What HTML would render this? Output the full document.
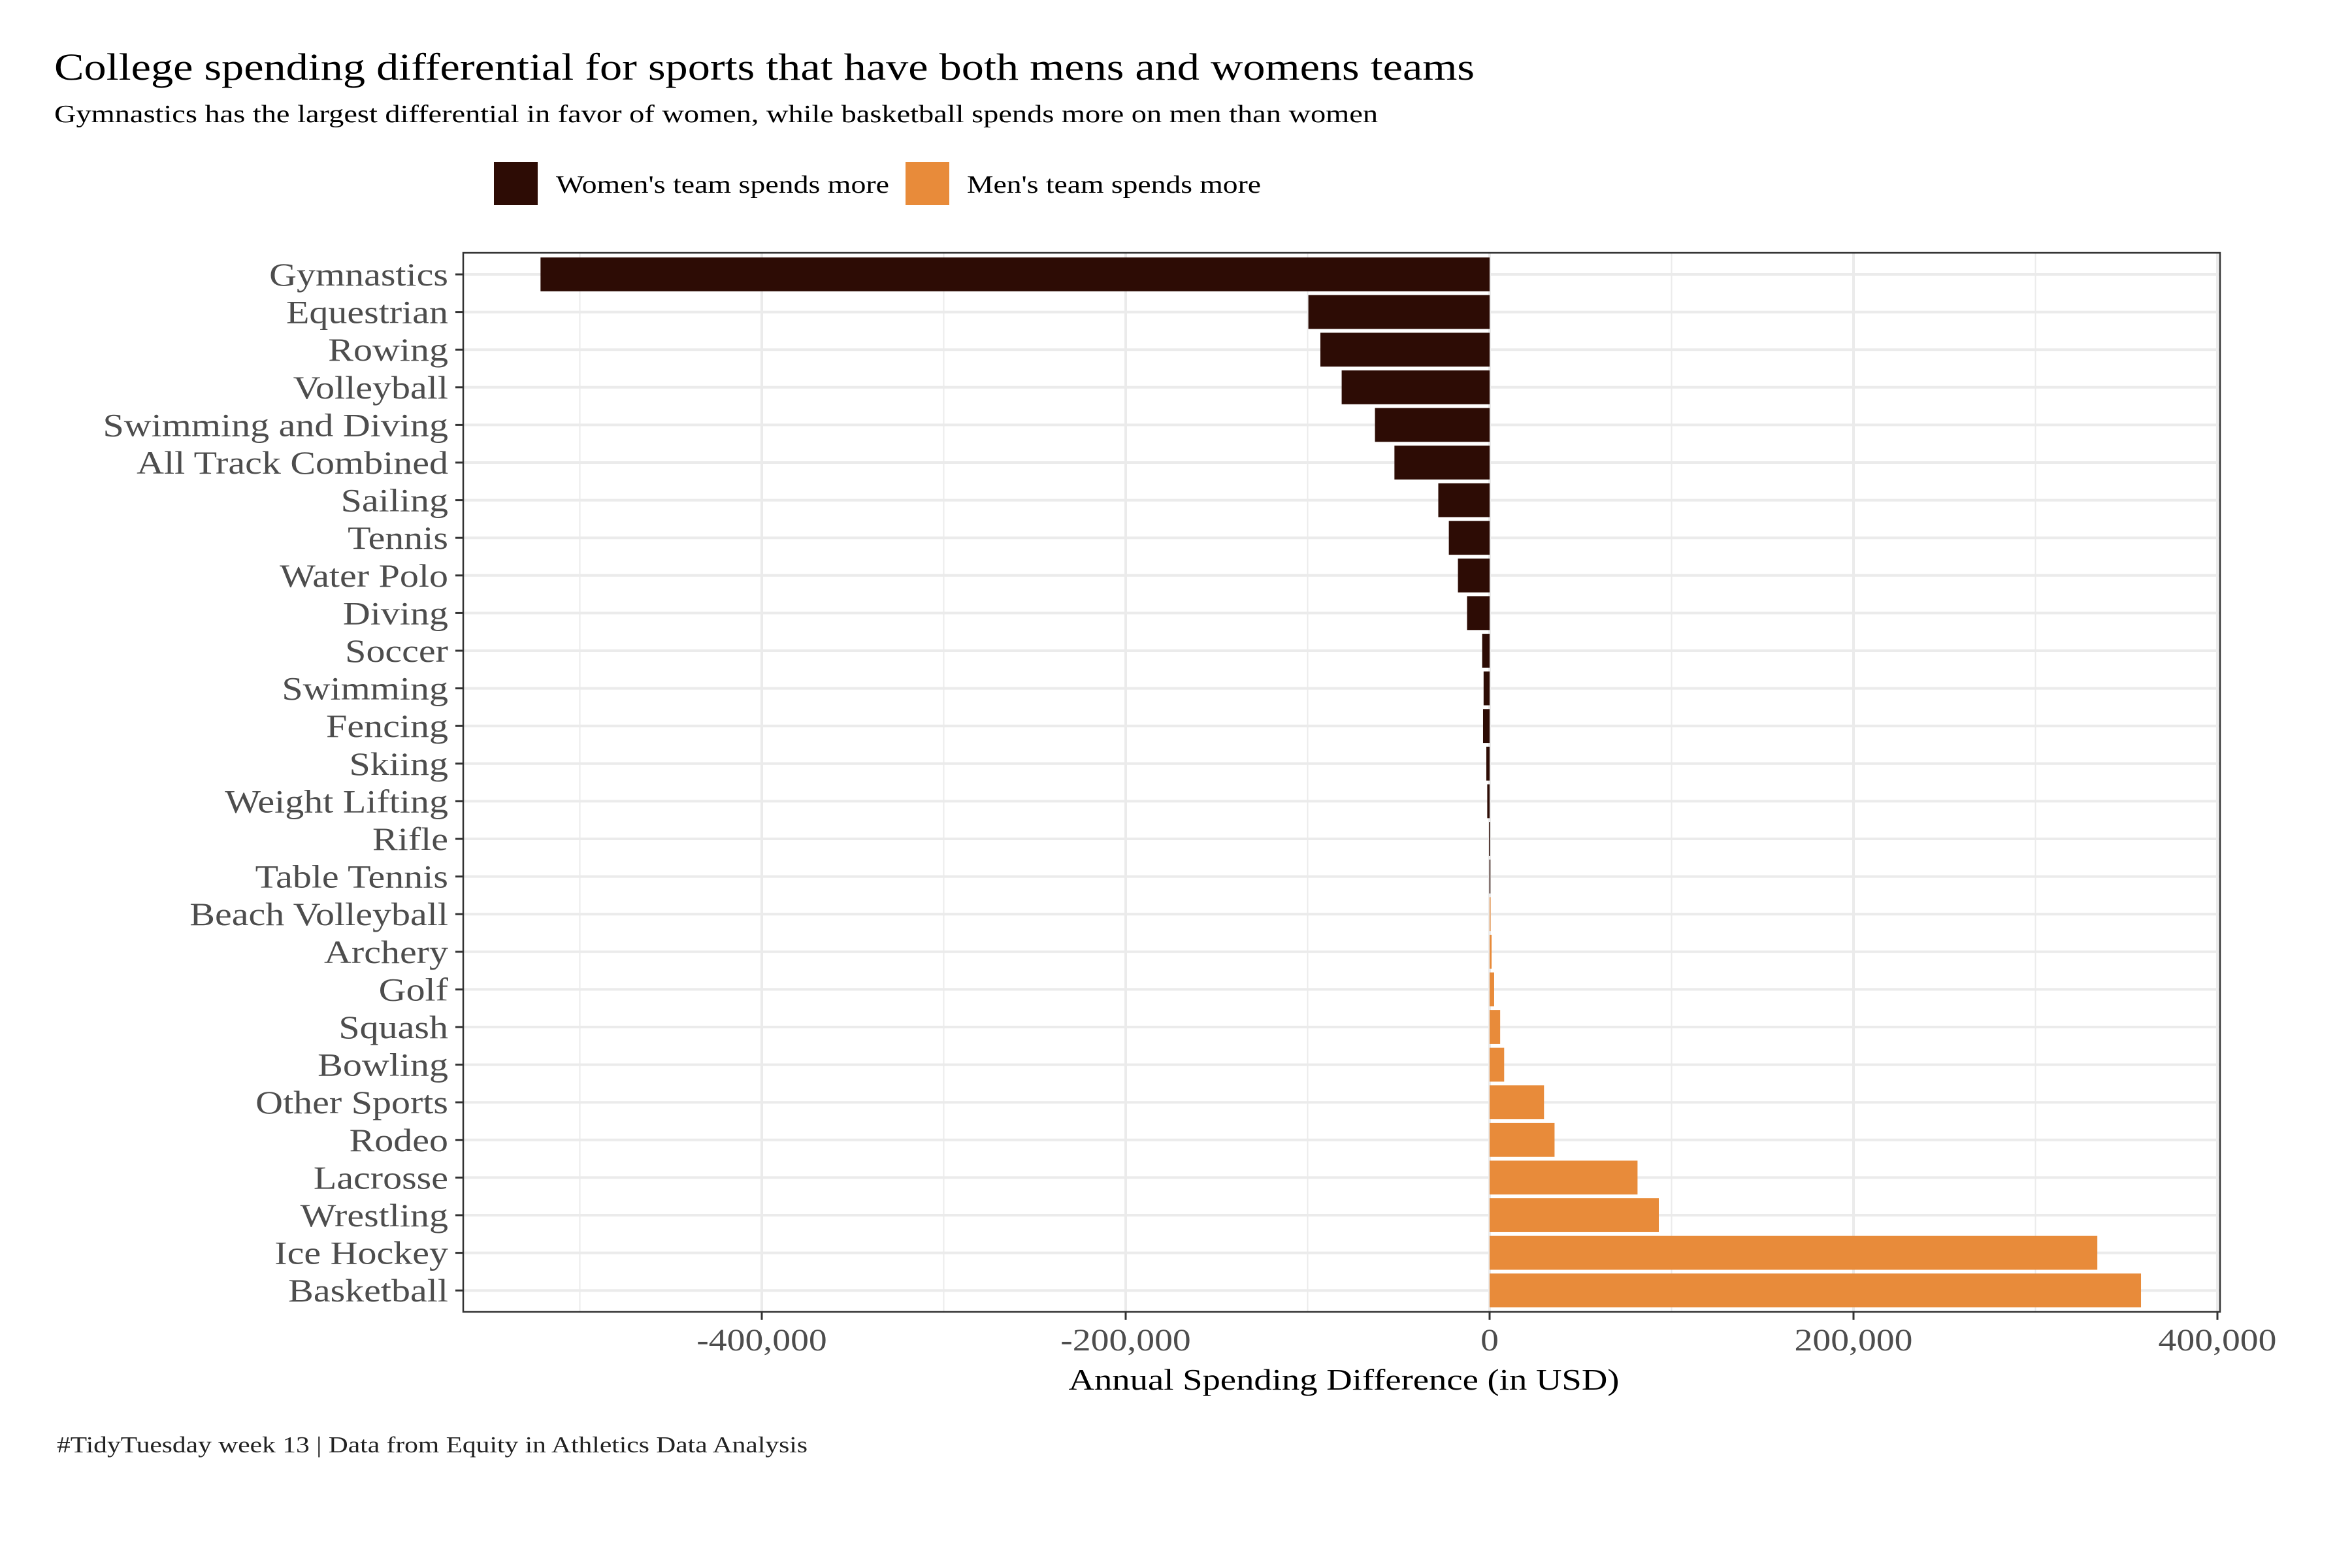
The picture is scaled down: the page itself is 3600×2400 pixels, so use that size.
<!DOCTYPE html>
<html><head><meta charset="utf-8"><style>
html,body{margin:0;padding:0;background:#fff;}
svg{display:block;font-family:"Liberation Serif",serif;}
</style></head><body>
<svg id="chart" width="3600" height="2400" viewBox="0 0 3600 2400" xmlns="http://www.w3.org/2000/svg">
<rect width="3600" height="2400" fill="#fff"/>
<text x="83" y="122" font-size="58" fill="#000" textLength="2174" lengthAdjust="spacingAndGlyphs">College spending differential for sports that have both mens and womens teams</text>
<text x="83" y="187" font-size="38" fill="#000" textLength="2026" lengthAdjust="spacingAndGlyphs">Gymnastics has the largest differential in favor of women, while basketball spends more on men than women</text>
<g>
<rect x="756" y="248" width="67" height="66" fill="#2d0c05"/>
<text x="851" y="295" font-size="38" textLength="510" lengthAdjust="spacingAndGlyphs">Women's team spends more</text>
<rect x="1386" y="248" width="67" height="66" fill="#e88b3a"/>
<text x="1480" y="295" font-size="38" textLength="450" lengthAdjust="spacingAndGlyphs">Men's team spends more</text>
</g>
<g id="grid"></g>
<g id="bars"></g>
<rect x="709" y="387" width="2689" height="1621" fill="none" stroke="#333" stroke-width="2.5"/>
<g id="yaxis"></g>
<g id="xaxis"></g>
<text x="2057" y="2127" font-size="46" text-anchor="middle" textLength="843" lengthAdjust="spacingAndGlyphs">Annual Spending Difference (in USD)</text>
<text x="87" y="2223" font-size="35" fill="#222" textLength="1149" lengthAdjust="spacingAndGlyphs">#TidyTuesday week 13 | Data from Equity in Athletics Data Analysis</text>
</svg>
<script>
const categories = ["Gymnastics","Equestrian","Rowing","Volleyball","Swimming and Diving","All Track Combined","Sailing","Tennis","Water Polo","Diving","Soccer","Swimming","Fencing","Skiing","Weight Lifting","Rifle","Table Tennis","Beach Volleyball","Archery","Golf","Squash","Bowling","Other Sports","Rodeo","Lacrosse","Wrestling","Ice Hockey","Basketball"];
const values = [-521600,-99600,-93000,-81300,-63000,-52300,-28200,-22400,-17400,-12400,-4100,-3300,-3600,-1800,-1300,-300,-100,400,1100,2500,5800,8000,29900,35700,81300,93000,334000,358000];
const xMajorTicks = [-400000,-200000,0,200000,400000];
const xTickLabels = ["-400,000","-200,000","0","200,000","400,000"];
const xMinorTicks = [-500000,-300000,-100000,100000,300000];

const NS = "http://www.w3.org/2000/svg";
const x0 = 2280, pxPer = 557/200000;
function xScale(v){ return x0 + v*pxPer; }
const yTop = 420, yStep = 57.6;
function yScale(i){ return yTop + i*yStep; }
const panelTop = 387, panelBottom = 2008, panelLeft = 709, panelRight = 3398;

function mk(tag, attrs, parent){
  const el = document.createElementNS(NS, tag);
  for (const k in attrs) el.setAttribute(k, attrs[k]);
  parent.appendChild(el);
  return el;
}
const grid = document.getElementById("grid");
xMinorTicks.forEach(t => {
  const x = xScale(t);
  if (x < panelLeft || x > panelRight) return;
  const l = mk("line", {x1:x, x2:x, y1:panelTop, y2:panelBottom, stroke:"#ebebeb", "stroke-width":2}, grid);
  
  
});
xMajorTicks.forEach(t => {
  const x = xScale(t);
  const l = mk("line", {x1:x, x2:x, y1:panelTop, y2:panelBottom, stroke:"#ebebeb", "stroke-width":4}, grid);
  
  
});
categories.forEach((c,i) => {
  const y = yScale(i);
  const l = mk("line", {x1:panelLeft, x2:panelRight, y1:y, y2:y, stroke:"#ebebeb", "stroke-width":4}, grid);
  
  
});
const bars = document.getElementById("bars");
const bh = yStep*0.9;
values.forEach((v,i) => {
  const xa = xScale(Math.min(0,v)), xb = xScale(Math.max(0,v));
  const r = mk("rect", {x:xa, y:yScale(i)-bh/2, width:Math.max(xb-xa,1.5), height:bh,
    fill: v < 0 ? "#2d0c05" : "#e88b3a"}, bars);
  
  
});
const yaxis = document.getElementById("yaxis");
categories.forEach((c,i) => {
  const y = yScale(i);
  const tk = mk("line", {x1:697, x2:709, y1:y, y2:y, stroke:"#333", "stroke-width":3}, yaxis);
  
  
  const t = mk("text", {x:686, y:y+17, "font-size":50, fill:"#4d4d4d", "text-anchor":"end", class:"wide"}, yaxis);
  t.textContent = c;
  
  
});
const xaxis = document.getElementById("xaxis");
xMajorTicks.forEach((tv,i) => {
  const x = xScale(tv);
  const tk = mk("line", {x1:x, x2:x, y1:panelBottom, y2:panelBottom+12, stroke:"#333", "stroke-width":3}, xaxis);
  
  
  const t = mk("text", {x:x, y:2067, "font-size":48, fill:"#4d4d4d", "text-anchor":"middle", class:"wide"}, xaxis);
  t.textContent = xTickLabels[i];
  
  
});
document.querySelectorAll("text.wide").forEach(t => {
  const w = t.getComputedTextLength();
  t.setAttribute("textLength", (w*1.16).toFixed(1));
  t.setAttribute("lengthAdjust", "spacingAndGlyphs");
});
</script>
</body></html>
